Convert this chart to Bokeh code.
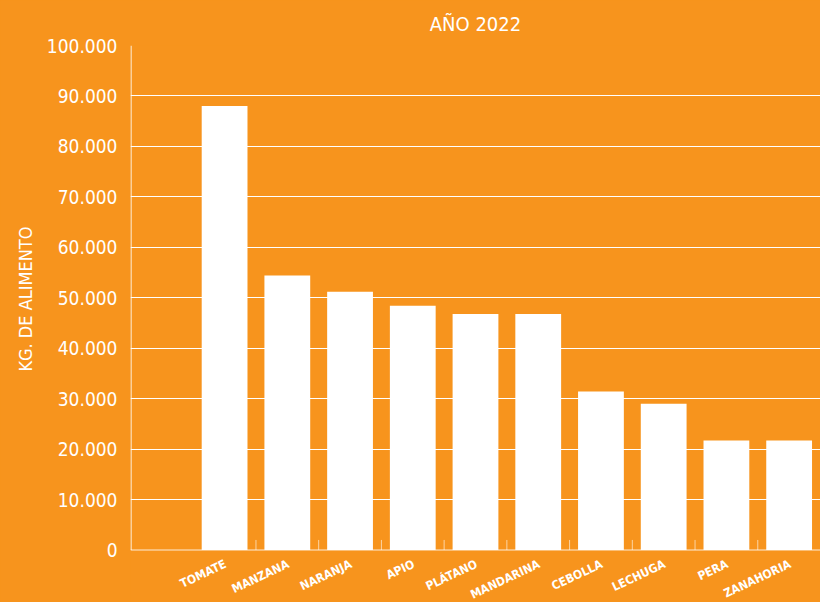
from bokeh.plotting import figure
from bokeh.models import Range1d, FixedTicker, ColumnDataSource, Title
from bokeh.core.properties import value
from bokeh.embed import file_html
from bokeh.resources import INLINE

# ---- data ----
categories = ["TOMATE", "MANZANA", "NARANJA", "APIO", "PLÁTANO",
              "MANDARINA", "CEBOLLA", "LECHUGA", "PERA", "ZANAHORIA"]
values = [88000, 54400, 51200, 48400, 46800, 46800, 31400, 29000, 21700, 21700]
y_ticks = [0, 10000, 20000, 30000, 40000, 50000, 60000, 70000, 80000, 90000, 100000]
y_tick_labels = ["0", "10.000", "20.000", "30.000", "40.000", "50.000",
                 "60.000", "70.000", "80.000", "90.000", "100.000"]
title_text = "AÑO 2022"
y_label = "KG. DE ALIMENTO"

ORANGE = "#F7941D"
FONT = "'Liberation Sans Narrow', 'DejaVu Sans Condensed', Roboto"

n = len(categories)
# first slot on the axis is left empty, as in the original
xpos = [i + 1.5 for i in range(n)]
boundaries = [i + 2 for i in range(n - 1)]
y_max = y_ticks[-1]
y_min = -0.104 * y_max          # room below the baseline for the labels
tick_len = 0.02 * y_max

source = ColumnDataSource(dict(x=xpos, top=values, name=categories))

p = figure(width=820, height=602, output_backend="svg", toolbar_location=None,
           x_range=Range1d(0, n + 1), y_range=Range1d(y_min, y_max),
           min_border_left=130, min_border_right=0, min_border_top=44,
           min_border_bottom=0, background_fill_color=ORANGE,
           border_fill_color=ORANGE, outline_line_color=None, title=title_text)

p.xaxis.visible = False

# grid
p.xgrid.visible = False
p.ygrid.ticker = FixedTicker(ticks=y_ticks[1:])
p.ygrid.grid_line_color = "white"
p.ygrid.grid_line_width = 1

p.vbar(x="x", top="top", bottom=0, width=0.73, source=source,
       fill_color="white", line_color=None)

# baseline, y axis line, boundary ticks
p.segment(x0=[0], y0=[0], x1=[n + 1], y1=[0], line_color="white",
          line_alpha=0.55, line_width=1.5)
p.segment(x0=[0], y0=[0], x1=[0], y1=[y_max], line_color="white",
          line_alpha=0.55, line_width=3)
p.segment(x0=boundaries, y0=[0] * len(boundaries), x1=boundaries,
          y1=[tick_len] * len(boundaries), line_color="white",
          line_alpha=0.6, line_width=1)

# category labels
p.text(x="x", y=0, text="name", source=source, angle=0.44,
       text_align="right", text_baseline="top", y_offset=7, x_offset=-2,
       text_font=value(FONT), text_font_size="12px",
       text_font_style="bold", text_color="white")

# title
p.title.align = "center"
p.title.text_font = FONT
p.title.text_font_size = "20px"
p.title.text_font_style = "normal"
p.title.text_color = "white"
p.title.standoff = 19

# y axis
ya = p.yaxis[0]
ya.ticker = FixedTicker(ticks=y_ticks)
ya.major_label_overrides = {t: l for t, l in zip(y_ticks, y_tick_labels)}
ya.major_tick_out = 0
ya.major_tick_in = 0
ya.minor_tick_out = 0
ya.minor_tick_in = 0
ya.axis_line_color = None
ya.major_label_text_font = FONT
ya.major_label_text_font_size = "19px"
ya.major_label_text_color = "white"
ya.major_label_standoff = 13

# y axis title, placed beside the 0..100.000 span
ytitle = Title(text=y_label, align="right", offset=181, standoff=16,
               text_font=FONT, text_font_size="18px",
               text_font_style="normal", text_color="white")
p.add_layout(ytitle, "left")

TEMPLATE = """
{% block preamble %}<style>html,body{margin:0;padding:0;background:#F7941D;overflow:hidden}</style>{% endblock %}
"""

open("out.html", "w").write(file_html(p, INLINE, template=TEMPLATE))
